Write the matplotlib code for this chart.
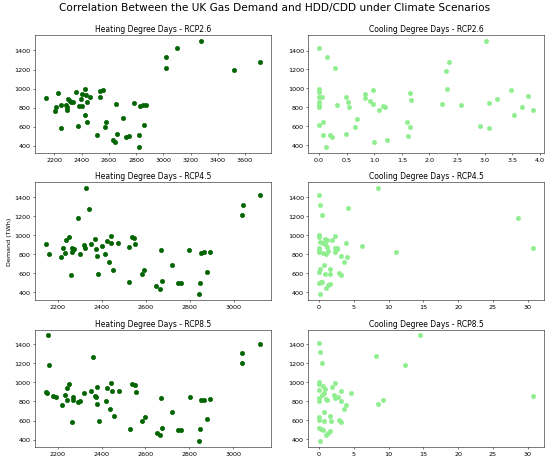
import numpy as np
import matplotlib
matplotlib.use('Agg')
import matplotlib.pyplot as plt

# HDD vs demand, RCP2.6
hdd26_x = [2137, 2207, 2212, 2227, 2251, 2249, 2283, 2290, 2292, 2302, 2312, 2322, 2339, 2358,
           2370, 2378, 2392, 2404, 2406, 2421, 2424, 2431, 2441, 2441, 2460, 2511, 2533, 2536,
           2560, 2570, 2580, 2631, 2648, 2650, 2660, 2703, 2728, 2745, 2781, 2825, 2825, 2832,
           2849, 2859, 2874, 3020, 3020, 3100, 3278, 3521, 3711]
hdd26_y = [903, 769, 803, 955, 828, 586, 831, 803, 776, 886, 872, 855, 855, 962,
           603, 817, 890, 817, 945, 724, 997, 931, 859, 648, 914, 514, 976, 914,
           986, 597, 648, 459, 438, 838, 521, 686, 493, 500, 845, 383, 507, 814,
           828, 621, 831, 1217, 1328, 1424, 1503, 1190, 1283]

# HDD vs demand, RCP4.5
hdd45_x = [2146, 2161, 2215, 2223, 2232, 2239, 2250, 2262, 2263, 2264, 2274, 2292, 2301, 2319,
           2325, 2330, 2343, 2349, 2370, 2372, 2378, 2384, 2401, 2414, 2422, 2431, 2440, 2444,
           2453, 2475, 2524, 2526, 2538, 2549, 2552, 2583, 2592, 2648, 2665, 2668, 2675, 2720,
           2746, 2760, 2799, 2841, 2846, 2850, 2865, 2879, 2891, 3039, 3042, 3120]
hdd45_y = [904, 800, 768, 869, 817, 952, 980, 580, 827, 862, 851, 1181, 806, 897,
           869, 1500, 1278, 910, 962, 851, 782, 598, 883, 806, 942, 720, 997, 914,
           640, 918, 872, 508, 987, 973, 904, 591, 640, 463, 435, 841, 522, 685,
           494, 494, 848, 379, 501, 817, 820, 619, 827, 1213, 1324, 1421]

# HDD vs demand, RCP8.5
hdd85_x = [2155, 2159, 2147, 2150, 2177, 2191, 2220, 2236, 2241, 2254, 2245, 2265, 2269, 2269,
           2292, 2304, 2322, 2354, 2360, 2372, 2377, 2378, 2381, 2387, 2419, 2425, 2437, 2441,
           2447, 2456, 2478, 2529, 2540, 2552, 2555, 2585, 2596, 2652, 2668, 2670, 2677, 2721,
           2748, 2761, 2802, 2844, 2847, 2852, 2865, 2880, 2893, 3037, 3040, 3121]
hdd85_y = [1500, 1180, 904, 885, 859, 846, 764, 866, 941, 982, 812, 584, 842, 819,
           798, 802, 893, 910, 1267, 859, 846, 955, 774, 598, 805, 938, 717, 995,
           910, 645, 910, 513, 985, 972, 904, 594, 642, 465, 445, 832, 523, 686,
           496, 496, 846, 380, 509, 812, 819, 618, 829, 1203, 1312, 1407]

# CDD vs demand, RCP2.6
cdd26_x = [0.0, 0.0, 0.0, 0.0, 0.0, 0.0, 0.0, 0.0, 0.05, 0.07, 0.07, 0.13, 0.15, 0.20,
           0.23, 0.29, 0.32, 0.48, 0.49, 0.53, 0.54, 0.65, 0.68, 0.83, 0.84, 0.92, 0.97,
           0.98, 0.99, 1.09, 1.16, 1.19, 1.23, 1.59, 1.61, 1.64, 1.65, 1.66, 2.23, 2.30,
           2.32, 2.36, 2.57, 2.92, 3.02, 3.07, 3.07, 3.22, 3.48, 3.53, 3.67, 3.79, 3.88]
cdd26_y = [1424, 999, 967, 912, 853, 829, 808, 618, 905, 642, 511, 379, 1327, 507,
           490, 1217, 822, 518, 909, 853, 808, 590, 680, 940, 895, 867, 833,
           978, 435, 777, 819, 805, 459, 642, 500, 954, 594, 874, 833, 1189,
           992, 1282, 826, 601, 1504, 850, 580, 888, 985, 722, 801, 919, 770]

# CDD vs demand, RCP4.5
cdd45_x = [0.0, 0.1, 0.4, 0.0, 0.0, 0.1, 0.0, 0.0, 0.0, 0.14, 0.0, 0.2, 0.0, 0.35, 0.14,
           0.7, 0.8, 0.5, 0.9, 1.2, 1.3, 0.6, 1.0, 0.9, 1.1, 1.05, 1.3, 1.6, 1.5, 1.6,
           1.8, 2.3, 2.3, 2.5, 2.6, 2.3, 2.9, 3.1, 3.2, 3.6, 3.8, 3.95, 4.2, 6.2, 8.5,
           11.1, 28.6, 30.8]
cdd45_y = [1420, 1320, 1210, 1000, 979, 920, 860, 835, 815, 635, 607, 508, 493, 500, 373,
           684, 587, 915, 900, 870, 830, 810, 800, 960, 950, 442, 476, 487, 640, 590,
           950, 988, 864, 846, 867, 822, 597, 580, 780, 718, 912, 766, 1279, 881, 1497,
           815, 1182, 860]

# CDD vs demand, RCP8.5
cdd85_x = [0.0, 0.14, 0.38, 0.0, 0.0, 0.0, 0.0, 0.0, 0.0, 0.0, 0.0, 0.25, 0.5, 0.14,
           0.6, 0.9, 0.7, 1.0, 0.4, 1.2, 0.7, 0.76, 1.05, 1.3, 1.6, 1.6, 1.7, 1.8, 2.3,
           2.1, 2.3, 2.7, 2.9, 3.1, 3.2, 3.1, 3.6, 3.9, 4.6, 8.2, 8.5, 9.2, 12.4, 14.5,
           30.8]
cdd85_y = [1410, 1314, 1204, 999, 978, 913, 831, 803, 628, 601, 515, 505, 494, 374,
           960, 930, 880, 820, 860, 810, 680, 587, 440, 460, 488, 642, 594, 944, 985,
           858, 827, 841, 601, 580, 910, 800, 717, 758, 879, 1270, 772, 810, 1180, 1496,
           851]

scenarios = ['RCP2.6', 'RCP4.5', 'RCP8.5']
hdd_data = [(hdd26_x, hdd26_y), (hdd45_x, hdd45_y), (hdd85_x, hdd85_y)]
cdd_data = [(cdd26_x, cdd26_y), (cdd45_x, cdd45_y), (cdd85_x, cdd85_y)]

fig, axes = plt.subplots(3, 2, figsize=(12, 10.12), dpi=550 / 12)
fig.suptitle('Correlation Between the UK Gas Demand and HDD/CDD under Climate Scenarios',
             fontsize=16.5, y=0.993)

for i, name in enumerate(scenarios):
    ax = axes[i, 0]
    ax.scatter(hdd_data[i][0], hdd_data[i][1], color='darkgreen', s=45)
    ax.set_title('Heating Degree Days - ' + name)
    if i == 1:
        ax.set_ylabel('Demand (TWh)')

    ax = axes[i, 1]
    ax.scatter(cdd_data[i][0], cdd_data[i][1], color='lightgreen', s=45)
    ax.set_title('Cooling Degree Days - ' + name)

plt.subplots_adjust(left=0.064, right=0.989, top=0.922, bottom=0.035,
                    wspace=0.16, hspace=0.255)
plt.savefig('out.png')
